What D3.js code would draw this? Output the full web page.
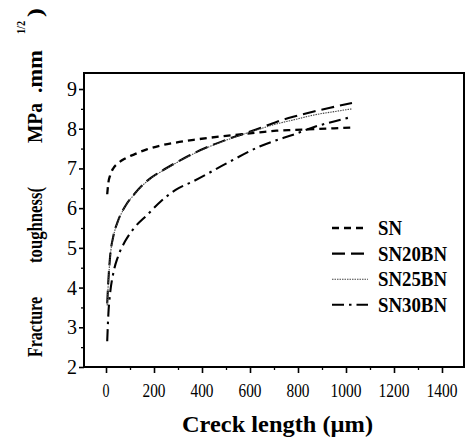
<!DOCTYPE html>
<html>
<head>
<meta charset="utf-8">
<script src="https://cdn.jsdelivr.net/npm/d3@7"></script>
<style>
  html, body { margin: 0; padding: 0; background: #fff; }
  svg { display: block; }
</style>
</head>
<body>
<svg id="chart" width="467" height="442" font-family="'Liberation Serif', 'Times New Roman', Times, 'DejaVu Serif', serif"></svg>
<script>
// Crack length (µm) at which toughness was evaluated
const crackLength = [5, 10, 17, 30, 50, 80, 120, 170, 230, 290, 365, 500, 640, 710, 780, 870, 950, 1025];

// Fracture toughness (MPa·mm^1/2) for each material
const seriesNames = ["SN", "SN20BN", "SN25BN", "SN30BN"];
const toughSN     = [6.35, 6.65, 6.82, 7.00, 7.13, 7.25, 7.36, 7.48, 7.58, 7.65, 7.72, 7.82, 7.91, 7.95, 7.97, 7.99, 8.01, 8.03];
const toughSN20BN = [3.60, 4.19, 4.78, 5.28, 5.68, 6.05, 6.37, 6.68, 6.93, 7.14, 7.38, 7.72, 8.01, 8.17, 8.30, 8.44, 8.55, 8.65];
const toughSN25BN = [3.55, 4.15, 4.75, 5.26, 5.67, 6.04, 6.36, 6.67, 6.92, 7.13, 7.37, 7.71, 7.99, 8.12, 8.22, 8.35, 8.43, 8.50];
const toughSN30BN = [2.65, 3.35, 3.85, 4.35, 4.78, 5.17, 5.52, 5.82, 6.18, 6.46, 6.68, 7.12, 7.55, 7.71, 7.85, 8.05, 8.18, 8.30];

const xTicks = [0, 200, 400, 600, 800, 1000, 1200, 1400];
const yTicks = [2, 3, 4, 5, 6, 7, 8, 9];

const svg = d3.select("#chart");
const plotLeft = 84, plotRight = 464, plotTop = 73, plotBottom = 367;

const x = d3.scaleLinear().domain([-91.7, 1491.7]).range([plotLeft, plotRight]);
const y = d3.scaleLinear().domain([2, 9.403]).range([plotBottom, plotTop]);

// line styles per series
const styles = {
  SN:     { width: 2.3, dash: "7,5", color: "#000" },
  SN20BN: { width: 2.1, dash: "13,6", color: "#000" },
  SN25BN: { width: 1.1, dash: "1.5,1", color: "#444" },
  SN30BN: { width: 2.1, dash: "12,5,2.5,5", color: "#000" }
};
const values = { SN: toughSN, SN20BN: toughSN20BN, SN25BN: toughSN25BN, SN30BN: toughSN30BN };

const line = d3.line()
  .x(d => x(d[0]))
  .y(d => y(d[1]))
  .curve(d3.curveMonotoneX);

// curves
const curves = svg.append("g");
seriesNames.forEach(name => {
  const pts = crackLength.map((c, i) => [c, values[name][i]]);
  const s = styles[name];
  curves.append("path")
    .attr("d", line(pts))
    .attr("fill", "none")
    .attr("stroke", s.color)
    .attr("stroke-width", s.width)
    .attr("stroke-dasharray", s.dash);
});

// frame
svg.append("rect")
  .attr("x", plotLeft).attr("y", plotTop)
  .attr("width", plotRight - plotLeft).attr("height", plotBottom - plotTop)
  .attr("fill", "none").attr("stroke", "#000").attr("stroke-width", 2);

// x axis
const xAxis = svg.append("g").attr("transform", `translate(0,${plotBottom})`)
  .call(d3.axisBottom(x).tickValues(xTicks).tickSize(6).tickFormat(""));
xAxis.select(".domain").remove();
xAxis.selectAll("line").attr("stroke-width", 1.6);
const xMinor = svg.append("g").attr("transform", `translate(0,${plotBottom})`)
  .call(d3.axisBottom(x).tickValues(d3.range(100, 1500, 200)).tickSize(3).tickFormat(""));
xMinor.select(".domain").remove();
xMinor.selectAll("line").attr("stroke-width", 1.3);
svg.append("g").selectAll("text").data(xTicks).join("text")
  .attr("x", d => x(d)).attr("y", 397)
  .attr("text-anchor", "middle")
  .attr("font-size", 19)
  .attr("textLength", d => String(d).length * 8 - 1)
  .attr("lengthAdjust", "spacingAndGlyphs")
  .text(d => d);

// y axis
const yAxis = svg.append("g").attr("transform", `translate(${plotLeft},0)`)
  .call(d3.axisLeft(y).tickValues(yTicks).tickSize(5).tickFormat(""));
yAxis.select(".domain").remove();
yAxis.selectAll("line").attr("stroke-width", 1.6);
const yMinor = svg.append("g").attr("transform", `translate(${plotLeft},0)`)
  .call(d3.axisLeft(y).tickValues(d3.range(2.5, 9.4, 1)).tickSize(3).tickFormat(""));
yMinor.select(".domain").remove();
yMinor.selectAll("line").attr("stroke-width", 1.3);
svg.append("g").selectAll("text").data(yTicks).join("text")
  .attr("x", 77).attr("y", d => y(d) + 7)
  .attr("text-anchor", "end")
  .attr("font-size", 20)
  .text(d => d);

// x title
svg.append("text")
  .attr("x", 182).attr("y", 432)
  .attr("font-size", 23).attr("font-weight", "bold")
  .attr("textLength", 191).attr("lengthAdjust", "spacingAndGlyphs")
  .text("Creck length (µm)");

// y title, set in separated pieces along the rotated baseline
const yTitle = svg.append("g").attr("transform", "translate(42,0) rotate(-90)");
const titleParts = [
  { t: "Fracture", from: 357, len: 60 },
  { t: "toughness(", from: 263, len: 76 },
  { t: "MPa", from: 143, len: 40 },
  { t: ".mm", from: 93, len: 43 },
  { t: ")", from: 17, len: 9 }
];
titleParts.forEach(p => {
  yTitle.append("text")
    .attr("x", -p.from).attr("y", 0)
    .attr("font-size", 22).attr("font-weight", "bold")
    .attr("textLength", p.len).attr("lengthAdjust", "spacingAndGlyphs")
    .text(p.t);
});
yTitle.append("text")
  .attr("x", -34).attr("y", -17)
  .attr("font-size", 12).attr("font-weight", "bold")
  .attr("textLength", 13).attr("lengthAdjust", "spacingAndGlyphs")
  .text("1/2");

// legend
const legend = svg.append("g");
seriesNames.forEach((name, i) => {
  const cy = 228 + i * 25.6;
  const s = styles[name];
  legend.append("line")
    .attr("x1", 332).attr("x2", 368).attr("y1", cy).attr("y2", cy)
    .attr("stroke", s.color).attr("stroke-width", s.width)
    .attr("stroke-dasharray", s.dash);
  legend.append("text")
    .attr("x", 378).attr("y", cy + 7)
    .attr("font-size", 20).attr("font-weight", "bold")
    .attr("textLength", name.length === 2 ? 24 : 69)
    .attr("lengthAdjust", "spacingAndGlyphs")
    .text(name);
});
</script>
</body>
</html>
